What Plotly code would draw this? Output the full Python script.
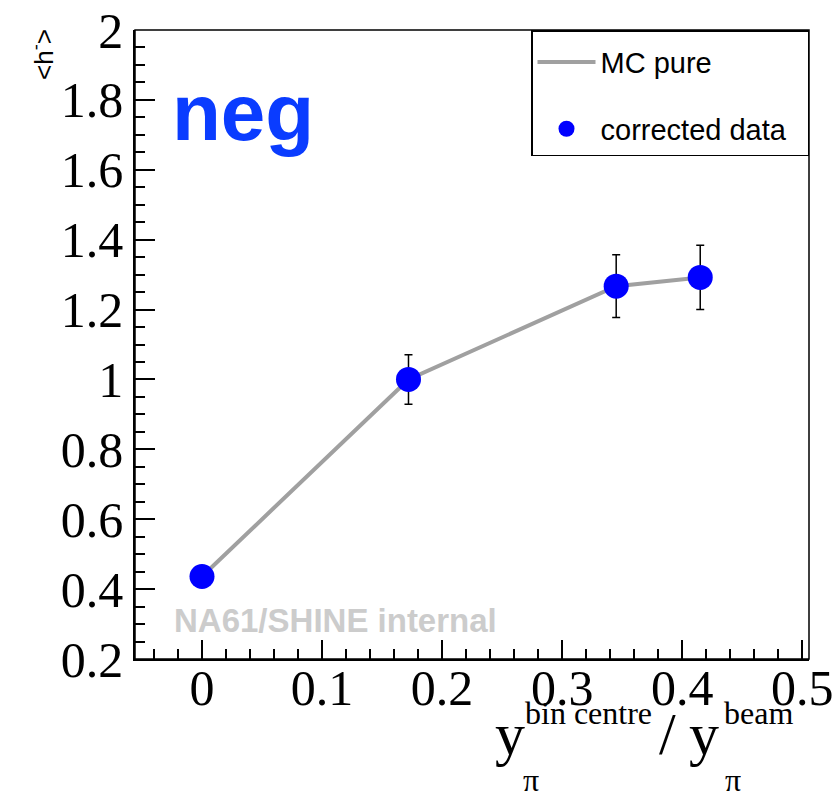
import plotly.graph_objects as go

# ---- data ----
x_bins = [0.0, 0.172, 0.345, 0.415]
mc_pure = [0.436, 1.0, 1.267, 1.292]
corrected = [0.436, 1.0, 1.267, 1.292]
corrected_err = [0.02, 0.071, 0.09, 0.092]

y_ticks = [0.2, 0.4, 0.6, 0.8, 1.0, 1.2, 1.4, 1.6, 1.8, 2.0]
y_ticklabels = ["0.2", "0.4", "0.6", "0.8", "1", "1.2", "1.4", "1.6", "1.8", "2"]
x_ticks = [0.0, 0.1, 0.2, 0.3, 0.4, 0.5]
x_ticklabels = ["0", "0.1", "0.2", "0.3", "0.4", "0.5"]

W, H = 835, 800
ML, MR, MT, MB = 135, 26, 30, 141
PW, PH = W - ML - MR, H - MT - MB

def px(xp):
    return (xp - ML) / PW

def py(yp):
    return (H - MB - yp) / PH

SERIF = "Liberation Serif, Times New Roman, serif"
SANS = "Liberation Sans, Arial, Helvetica, sans-serif"
NB = "\u00a0"

fig = go.Figure()
fig.add_trace(go.Scatter(
    x=x_bins, y=mc_pure, mode="lines", name="MC pure",
    line=dict(color="#a0a0a0", width=4), legendgroup="a",
))
fig.add_trace(go.Scatter(
    x=x_bins, y=corrected, mode="markers", name="corrected data" + NB * 2,
    marker=dict(color="#0000ff", size=25, line=dict(width=0)),
    error_y=dict(type="data", array=corrected_err, color="black", thickness=1.5, width=4),
    legendgroup="b",
))

annotations = [
    dict(text="<b>neg</b>", x=px(170), y=py(112), xanchor="left", yanchor="middle",
         font=dict(family=SANS, size=80, color="#0a3cff")),
    dict(text="<b>NA61/SHINE internal</b>", x=px(172), y=py(620), xanchor="left", yanchor="middle",
         font=dict(family=SANS, size=33, color="#cccccc")),
    dict(text="&lt;h<sup>-</sup>&gt;", x=px(43), y=py(55), xanchor="center", yanchor="middle",
         textangle=-90, font=dict(family=SANS, size=26, color="black")),
    dict(text="y", x=px(493), y=py(734), xanchor="left", yanchor="middle",
         font=dict(family=SERIF, size=60, color="black")),
    dict(text="bin centre", x=px(523), y=py(713), xanchor="left", yanchor="middle",
         font=dict(family=SERIF, size=32, color="black")),
    dict(text="π", x=px(521), y=py(780), xanchor="left", yanchor="middle", height=28,
         font=dict(family=SERIF, size=32, color="black")),
    dict(text="/", x=px(657), y=py(734), xanchor="left", yanchor="middle",
         font=dict(family=SERIF, size=60, color="black")),
    dict(text="y", x=px(687), y=py(734), xanchor="left", yanchor="middle",
         font=dict(family=SERIF, size=60, color="black")),
    dict(text="beam", x=px(722), y=py(713), xanchor="left", yanchor="middle",
         font=dict(family=SERIF, size=32, color="black")),
    dict(text="π", x=px(723), y=py(780), xanchor="left", yanchor="middle", height=28,
         font=dict(family=SERIF, size=32, color="black")),
]
for a in annotations:
    a.update(xref="paper", yref="paper", showarrow=False)

fig.update_layout(
    width=W, height=H,
    margin=dict(l=ML, r=MR, t=MT, b=MB, pad=0, autoexpand=False),
    plot_bgcolor="white", paper_bgcolor="white",
    showlegend=True,
    legend=dict(
        x=1.0, xanchor="right", y=1.0, yanchor="top",
        bgcolor="white", bordercolor="black", borderwidth=1.5,
        font=dict(family=SANS, size=29, color="black"),
        tracegroupgap=26, traceorder="grouped", itemwidth=58,
        title=dict(text=NB, font=dict(size=4)),
    ),
    annotations=annotations,
    shapes=[dict(type="rect", xref="paper", yref="paper", x0=0, x1=1, y0=0, y1=1,
                 line=dict(color="black", width=1.5), layer="above")],
)
fig.update_xaxes(
    range=[-0.0558, 0.5056], tickmode="array", tickvals=x_ticks, ticktext=x_ticklabels,
    ticks="inside", ticklen=19, tickwidth=1.5, tickcolor="black",
    minor=dict(dtick=0.02, tick0=0, ticks="inside", ticklen=10, tickwidth=1.5, tickcolor="black"),
    showgrid=False, zeroline=False, showline=True, linecolor="black", linewidth=1.5,
    tickfont=dict(family=SERIF, size=50, color="black"), ticklabelstandoff=-16,
    automargin=False,
)
fig.update_yaxes(
    range=[0.2, 2.0], tickmode="array", tickvals=y_ticks, ticktext=y_ticklabels,
    ticks="inside", ticklen=20, tickwidth=1.5, tickcolor="black",
    minor=dict(dtick=0.05, tick0=0.2, ticks="inside", ticklen=10, tickwidth=1.5, tickcolor="black"),
    showgrid=False, zeroline=False, showline=True, linecolor="black", linewidth=1.5,
    tickfont=dict(family=SERIF, size=50, color="black"), ticklabelstandoff=0,
    automargin=False,
)

fig.write_html("out.html")
